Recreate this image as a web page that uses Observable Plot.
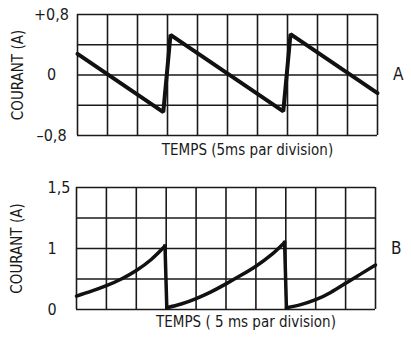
<!DOCTYPE html>
<html><head><meta charset="utf-8">
<script src="https://cdn.jsdelivr.net/npm/d3@7"></script>
<script src="https://cdn.jsdelivr.net/npm/@observablehq/plot@0.6"></script>
<style>body{margin:0;background:#fff} #chart svg{display:block}</style>
</head><body><div id="chart"></div>
<script>
// Time in ms (5 ms per division, 10 divisions)
const xTicks = [0, 5, 10, 15, 20, 25, 30, 35, 40, 45, 50];

// Panel A : sawtooth current
const timeA = [0, 14.3, 15.5, 34.3, 35.5, 50];
const courantA = [0.28, -0.49, 0.53, -0.48, 0.54, -0.24];
const segA = [0, 0, 0, 0, 0, 0];
const yGridA = [-0.8, -0.4, 0, 0.4, 0.8];
const yTicksA = [-0.8, 0, 0.8];
const yTickLabelsA = ["\u20130,8", "0", "+0,8"];

// Panel B : rising current with resets (one segment per charge)
const timeB = [0, 2.5, 5, 7.5, 10, 12.5, 14.8, 15.1, 17.5, 20, 22.5, 25, 27.5, 30, 32.5, 34.8, 35.1, 37.5, 40, 42.5, 45, 47.5, 50];
const courantB = [0.22, 0.30, 0.39, 0.50, 0.64, 0.82, 1.04, 0.03, 0.09, 0.18, 0.29, 0.42, 0.56, 0.71, 0.89, 1.10, 0.03, 0.08, 0.16, 0.28, 0.43, 0.58, 0.73];
const segB = [0, 0, 0, 0, 0, 0, 0, 1, 1, 1, 1, 1, 1, 1, 1, 1, 2, 2, 2, 2, 2, 2, 2];
const yGridB = [0, 0.5, 1, 1.5, 2];
const yTicksB = [0, 1, 2];
const yTickLabelsB = ["0", "1", "1,5"];

const font = "'DejaVu Sans Condensed', 'DejaVu Sans', sans-serif";
const ink = "#1a1a1a";

function panel({time, courant, seg, yGrid, yTicks, yTickLabels, letter, xLabel, height, margins, tickDx, tickAnchor, lineWidth, curve, xLabelDy}) {
  const data = time.map((t, i) => ({t, c: courant[i], s: seg[i]}));
  // connectors (vertical resets) between consecutive segments
  const jumps = [];
  for (let i = 0; i < data.length - 1; i++) {
    if (data[i].s !== data[i + 1].s) jumps.push({t1: data[i].t, c1: data[i].c, t2: data[i + 1].t, c2: data[i + 1].c});
  }
  return Plot.plot({
    width: 411,
    height,
    ...margins,
    style: {fontFamily: font, background: "#fff"},
    x: {domain: [0, 50], axis: null},
    y: {domain: [yGrid[0], yGrid[yGrid.length - 1]], axis: null},
    marks: [
      Plot.ruleX(xTicks, {x: d => d, stroke: ink, strokeWidth: 1.6}),
      Plot.ruleY(yGrid, {y: d => d, stroke: ink, strokeWidth: 1.6}),
      Plot.line(data, {x: "t", y: "c", z: "s", stroke: "#111", strokeWidth: lineWidth, curve, strokeLinejoin: "miter"}),
      Plot.link(jumps, {x1: "t1", y1: "c1", x2: "t2", y2: "c2", stroke: "#111", strokeWidth: lineWidth, strokeLinecap: "square"}),
      Plot.text(yTicks, {y: d => d, text: (d, i) => yTickLabels[i], frameAnchor: "left", dx: tickDx, textAnchor: tickAnchor, fontSize: 16, fill: ink}),
      Plot.text(["COURANT (A)"], {frameAnchor: "left", dx: -59, rotate: -90, fontSize: 15, fill: ink, textAnchor: "middle", letterSpacing: "1px"}),
      Plot.text([letter], {frameAnchor: "right", dx: 26, fontSize: 17, fill: ink}),
      Plot.text([xLabel], {frameAnchor: "bottom", dy: xLabelDy, dx: 20, fontSize: 15, fill: ink, letterSpacing: "0.8px"})
    ]
  });
}

const chart = document.getElementById("chart");
chart.append(panel({
  time: timeA, courant: courantA, seg: segA, yGrid: yGridA, yTicks: yTicksA, yTickLabels: yTickLabelsA,
  letter: "A", xLabel: "TEMPS (5ms par division)", height: 170,
  margins: {marginTop: 14, marginBottom: 35, marginLeft: 77, marginRight: 34},
  tickDx: -26, tickAnchor: "middle", lineWidth: 4, curve: "linear", xLabelDy: 19
}));
chart.append(panel({
  time: timeB, courant: courantB, seg: segB, yGrid: yGridB, yTicks: yTicksB, yTickLabels: yTickLabelsB,
  letter: "B", xLabel: "TEMPS ( 5 ms par division)", height: 169,
  margins: {marginTop: 17, marginBottom: 30, marginLeft: 76, marginRight: 36},
  tickDx: -29, tickAnchor: "start", lineWidth: 3.5, curve: "natural", xLabelDy: 17
}));
</script>
</body></html>
